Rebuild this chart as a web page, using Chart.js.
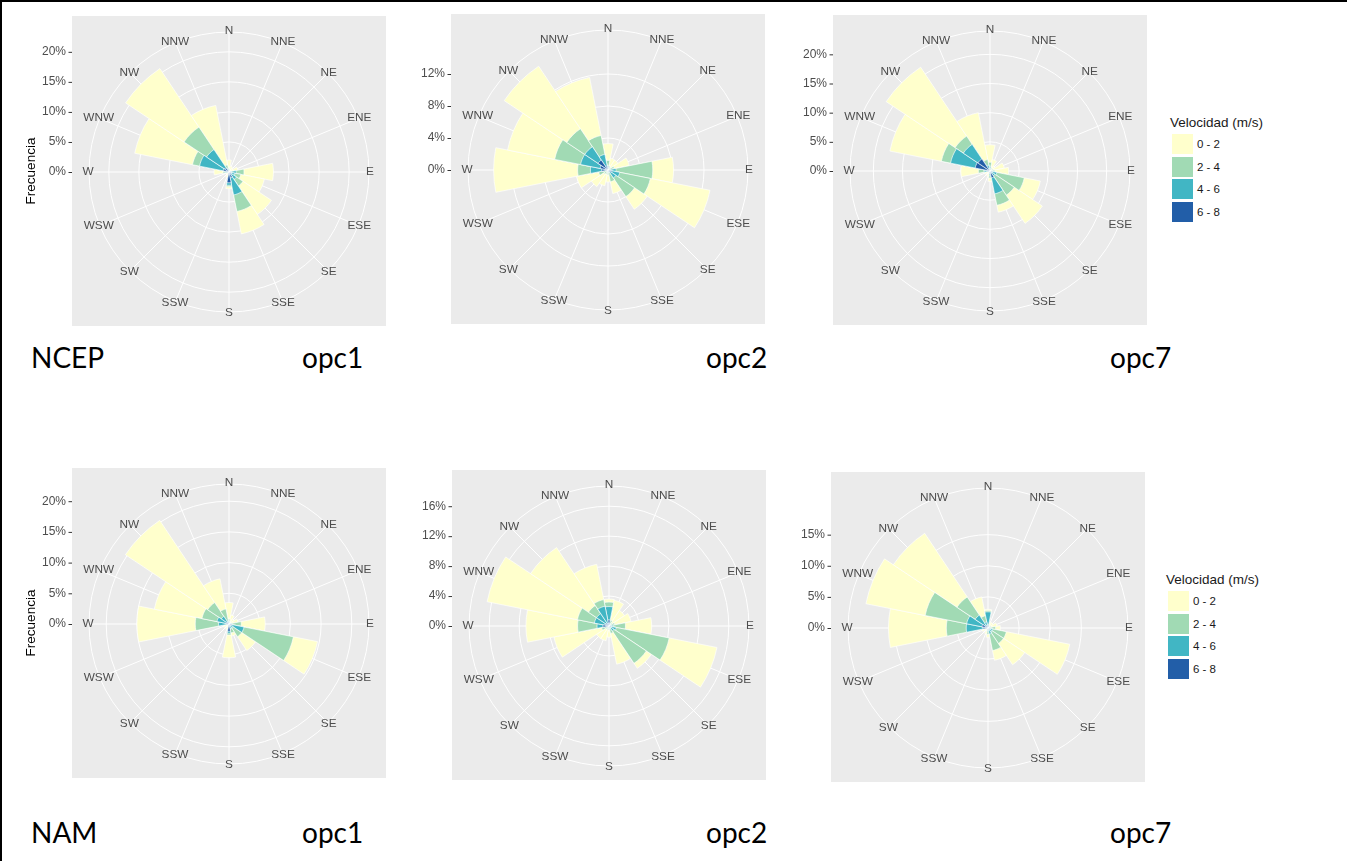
<!DOCTYPE html>
<html>
<head>
<meta charset="utf-8">
<title>Rosas de viento</title>
<script src="https://cdn.jsdelivr.net/npm/chart.js@4.4.1/dist/chart.umd.min.js"></script>
<style>
  html, body { margin: 0; padding: 0; background: #fff; }
  #page { position: relative; width: 1347px; height: 861px; overflow: hidden; background: #fff; }
  #page canvas { position: absolute; }
  .frameTop { position: absolute; left: 0; top: 0; width: 1347px; height: 2px; background: #000; }
  .frameLeft { position: absolute; left: 0; top: 0; width: 2px; height: 861px; background: #000; }
  .tag { position: absolute; font-family: Lato, 'Open Sans', sans-serif; font-size: 28px; line-height: 28px; color: #000; white-space: nowrap; }
  .legend { position: absolute; font-family: 'Liberation Sans', Arial, sans-serif; color: #1a1a1a; }
  .legend .title { font-size: 13.5px; line-height: 18px; height: 20px; white-space: nowrap; }
  .legend .row { position: relative; height: 22.6px; }
  .legend .key { position: absolute; left: 2px; top: 0; width: 21px; height: 20px; }
  .legend .lab { position: absolute; left: 27px; top: 0; line-height: 20px; font-size: 11.5px; white-space: nowrap; }
</style>
</head>
<body>
<div id="page">
  <div class="frameTop"></div>
  <div class="frameLeft"></div>

  <div class="tag" style="left:31px;top:343px">NCEP</div>
  <div class="tag" style="left:302px;top:343px">opc1</div>
  <div class="tag" style="left:706px;top:343px">opc2</div>
  <div class="tag" style="left:1110px;top:343px">opc7</div>
  <div class="tag" style="left:31px;top:818px">NAM</div>
  <div class="tag" style="left:302px;top:818px">opc1</div>
  <div class="tag" style="left:706px;top:818px">opc2</div>
  <div class="tag" style="left:1110px;top:818px">opc7</div>

  <div class="legend" id="legendTop" style="left:1170px;top:114px"></div>
  <div class="legend" id="legendBottom" style="left:1166px;top:571px"></div>
</div>

<script>
// Directions (clockwise from north) and speed classes
const directions = ['N', 'NNE', 'NE', 'ENE', 'E', 'ESE', 'SE', 'SSE', 'S', 'SSW', 'SW', 'WSW', 'W', 'WNW', 'NW', 'NNW'];
const speedClasses = ['0 - 2', '2 - 4', '4 - 6', '6 - 8'];
const speedColors = ['#FFFFCC', '#A1DAB4', '#41B6C4', '#225EA8'];

// Frequencies (%) per direction, one array per speed class

// NCEP - opc1
const ncepOpc1Speed02 = [1.5, 0.8, 0.8, 1.2, 4.9, 4.0, 5.7, 3.8, 0.4, 0.6, 0.3, 0.4, 1.5, 9.8, 11.7, 10.1];
const ncepOpc1Speed24 = [0.3, 0.2, 0.0, 0.3, 1.3, 1.0, 1.3, 2.8, 0.2, 0.2, 0.2, 0.2, 0.4, 1.2, 4.5, 0.6];
const ncepOpc1Speed46 = [0.2, 0.0, 0.0, 0.0, 0.9, 0.7, 1.0, 2.9, 0.4, 0.2, 0.0, 0.0, 0.4, 4.0, 3.7, 0.4];
const ncepOpc1Speed68 = [0.0, 0.0, 0.0, 0.0, 0.3, 0.3, 0.5, 1.0, 1.8, 0.0, 0.0, 0.0, 0.2, 1.0, 0.8, 0.2];
const ncepOpc1Ticks = [0, 5, 10, 15, 20];

// NCEP - opc2
const ncepOpc2Speed02 = [2.1, 1.0, 1.1, 1.9, 2.6, 7.6, 1.9, 1.5, 0.9, 1.5, 1.9, 2.8, 10.5, 6.0, 9.4, 7.4];
const ncepOpc2Speed24 = [0.7, 0.3, 0.3, 0.6, 4.6, 3.9, 2.8, 1.2, 0.4, 0.5, 0.6, 1.0, 1.6, 3.3, 2.7, 2.4];
const ncepOpc2Speed46 = [0.3, 0.2, 0.1, 0.2, 0.8, 1.0, 0.9, 0.3, 0.2, 0.0, 0.0, 0.2, 1.4, 2.5, 2.0, 1.5];
const ncepOpc2Speed68 = [0.2, 0.0, 0.0, 0.0, 0.2, 0.5, 0.3, 0.0, 0.0, 0.0, 0.0, 0.0, 0.8, 1.0, 1.5, 0.5];
const ncepOpc2Ticks = [0, 4, 8, 12];

// NCEP - opc7
const ncepOpc7Speed02 = [3.0, 1.4, 0.7, 1.9, 2.4, 2.8, 5.8, 1.2, 0.6, 0.6, 0.3, 0.7, 3.0, 9.0, 14.2, 8.2];
const ncepOpc7Speed24 = [0.7, 0.4, 0.3, 0.4, 0.5, 4.8, 4.0, 2.0, 0.4, 0.2, 0.2, 0.3, 1.0, 1.6, 1.7, 1.0];
const ncepOpc7Speed46 = [0.5, 0.2, 0.0, 0.2, 0.3, 0.9, 0.8, 2.8, 0.5, 0.2, 0.0, 0.0, 0.5, 4.3, 3.0, 0.7];
const ncepOpc7Speed68 = [0.3, 0.0, 0.0, 0.0, 0.0, 0.3, 0.2, 1.2, 0.3, 0.0, 0.0, 0.0, 0.5, 2.6, 2.5, 0.3];
const ncepOpc7Ticks = [0, 5, 10, 15, 20];

// NAM - opc1
const namOpc1Speed02 = [2.7, 1.2, 0.8, 1.1, 3.9, 4.0, 2.7, 0.5, 3.7, 0.7, 0.3, 0.7, 9.5, 7.9, 16.1, 5.0];
const namOpc1Speed24 = [0.5, 0.3, 0.2, 0.4, 1.5, 8.2, 1.7, 0.7, 0.3, 0.3, 0.2, 0.3, 3.8, 2.5, 2.7, 2.0];
const namOpc1Speed46 = [0.3, 0.0, 0.0, 0.0, 0.5, 2.0, 0.6, 0.5, 0.3, 0.0, 0.0, 0.0, 1.4, 1.5, 1.2, 0.5];
const namOpc1Speed68 = [0.0, 0.0, 0.0, 0.0, 0.0, 0.5, 0.2, 0.3, 1.2, 0.0, 0.0, 0.0, 0.3, 0.5, 0.3, 0.0];
const namOpc1Ticks = [0, 5, 10, 15, 20];

// NAM - opc2
const namOpc2Speed02 = [0.4, 2.7, 2.0, 2.2, 3.5, 6.5, 0.8, 4.2, 1.0, 1.5, 1.5, 6.5, 6.9, 12.3, 9.3, 4.8];
const namOpc2Speed24 = [0.6, 0.5, 0.3, 0.6, 1.6, 7.2, 5.2, 0.7, 0.3, 0.5, 0.5, 0.8, 2.6, 2.3, 1.3, 0.9];
const namOpc2Speed46 = [1.8, 0.3, 0.2, 0.2, 0.4, 0.7, 0.6, 0.3, 0.2, 0.0, 0.0, 0.2, 0.8, 1.5, 1.5, 2.4];
const namOpc2Speed68 = [0.8, 0.0, 0.0, 0.0, 0.2, 0.3, 0.2, 0.0, 0.0, 0.0, 0.0, 0.0, 0.8, 0.5, 0.5, 0.3];
const namOpc2Ticks = [0, 4, 8, 12, 16];

// NAM - opc7
const namOpc7Speed02 = [0.2, 0.6, 0.7, 1.0, 0.8, 10.4, 4.1, 1.6, 0.5, 0.6, 0.3, 0.7, 9.3, 9.7, 12.3, 3.1];
const namOpc7Speed24 = [0.2, 0.2, 0.3, 0.3, 0.7, 2.2, 2.2, 2.7, 0.4, 0.4, 0.2, 0.3, 3.2, 6.8, 3.5, 1.0];
const namOpc7Speed46 = [2.1, 0.2, 0.0, 0.2, 0.3, 0.6, 0.6, 0.8, 0.3, 0.0, 0.0, 0.0, 2.7, 2.5, 2.0, 0.7];
const namOpc7Speed68 = [0.5, 0.0, 0.0, 0.0, 0.2, 0.2, 0.2, 0.2, 0.3, 0.0, 0.0, 0.0, 0.8, 1.0, 0.5, 0.3];
const namOpc7Ticks = [0, 5, 10, 15];

// Panel layout: canvas position on the page and radial limit (outer ring)
const panels = [
  { left: 15,  top: 12,  rMax: 23.3, ticks: ncepOpc1Ticks, yTitle: true,
    classes: [ncepOpc1Speed02, ncepOpc1Speed24, ncepOpc1Speed46, ncepOpc1Speed68] },
  { left: 394, top: 10,  rMax: 17.5, ticks: ncepOpc2Ticks, yTitle: false,
    classes: [ncepOpc2Speed02, ncepOpc2Speed24, ncepOpc2Speed46, ncepOpc2Speed68] },
  { left: 776, top: 11,  rMax: 24.0, ticks: ncepOpc7Ticks, yTitle: false,
    classes: [ncepOpc7Speed02, ncepOpc7Speed24, ncepOpc7Speed46, ncepOpc7Speed68] },
  { left: 15,  top: 464, rMax: 22.8, ticks: namOpc1Ticks, yTitle: true,
    classes: [namOpc1Speed02, namOpc1Speed24, namOpc1Speed46, namOpc1Speed68] },
  { left: 395, top: 466, rMax: 18.7, ticks: namOpc2Ticks, yTitle: false,
    classes: [namOpc2Speed02, namOpc2Speed24, namOpc2Speed46, namOpc2Speed68] },
  { left: 774, top: 468, rMax: 22.5, ticks: namOpc7Ticks, yTitle: false,
    classes: [namOpc7Speed02, namOpc7Speed24, namOpc7Speed46, namOpc7Speed68] }
];

const CANVAS_W = 380;
const CANVAS_H = 320;
const textGrey = '#4D4D4D';

// ggplot-like panel: grey square, spokes, direction and r-axis labels
const roseFrame = {
  id: 'roseFrame',
  beforeDraw(chart) {
    const s = chart.scales.r;
    const ctx = chart.ctx;
    ctx.save();
    ctx.fillStyle = '#EBEBEB';
    ctx.fillRect(s.xCenter - 157, s.yCenter - 156, 314, 310);
    ctx.restore();
  },
  beforeDatasetsDraw(chart) {
    const s = chart.scales.r;
    const ctx = chart.ctx;
    ctx.save();
    ctx.strokeStyle = '#FFFFFF';
    ctx.lineWidth = 1;
    directions.forEach((d, i) => {
      const p = s.getPointPosition(i + 0.5, s.drawingArea);
      ctx.beginPath();
      ctx.moveTo(s.xCenter, s.yCenter);
      ctx.lineTo(p.x, p.y);
      ctx.stroke();
    });
    ctx.restore();
  },
  afterDraw(chart, args, opts) {
    const s = chart.scales.r;
    const ctx = chart.ctx;
    const panelLeft = s.xCenter - 157;
    ctx.save();

    // direction labels on the outer ring
    ctx.fillStyle = textGrey;
    ctx.font = '11.8px "Liberation Sans", Arial, sans-serif';
    ctx.textAlign = 'center';
    ctx.textBaseline = 'middle';
    directions.forEach((d, i) => {
      const p = s.getPointPosition(i + 0.5, s.drawingArea + 1);
      ctx.fillText(d, p.x, p.y);
    });

    // radial axis, drawn on the left like ggplot
    ctx.font = '12px "Liberation Sans", Arial, sans-serif';
    ctx.textAlign = 'right';
    ctx.strokeStyle = '#333333';
    ctx.lineWidth = 1;
    opts.ticks.forEach(v => {
      const y = s.yCenter - s.getDistanceFromCenterForValue(v);
      ctx.fillText(v + '%', panelLeft - 6, y);
      ctx.beginPath();
      ctx.moveTo(panelLeft - 3.5, y + 0.5);
      ctx.lineTo(panelLeft, y + 0.5);
      ctx.stroke();
    });

    if (opts.yTitle) {
      ctx.translate(s.xCenter - 198, s.yCenter - 1);
      ctx.rotate(-Math.PI / 2);
      ctx.fillStyle = '#000000';
      ctx.font = '13.5px "Liberation Sans", Arial, sans-serif';
      ctx.textAlign = 'center';
      ctx.fillText('Frecuencia', 0, 0);
    }
    ctx.restore();
  }
};

// stacked rose: cumulative sums, innermost class first so it is painted on top
function stackedDatasets(classes) {
  const sets = [];
  let running = directions.map(() => 0);
  for (let k = classes.length - 1; k >= 0; k--) {
    running = running.map((sum, i) => sum + classes[k][i]);
    sets.push({
      label: speedClasses[k],
      data: running.slice(),
      backgroundColor: speedColors[k],
      borderColor: 'rgba(255, 255, 255, 0.65)',
      borderWidth: 1
    });
  }
  return sets;
}

const page = document.getElementById('page');
panels.forEach(panel => {
  const canvas = document.createElement('canvas');
  canvas.width = CANVAS_W;
  canvas.height = CANVAS_H;
  canvas.style.left = panel.left + 'px';
  canvas.style.top = panel.top + 'px';
  page.appendChild(canvas);

  const ringValues = panel.ticks.concat([panel.rMax]);

  new Chart(canvas, {
    type: 'polarArea',
    data: {
      labels: directions,
      datasets: stackedDatasets(panel.classes)
    },
    options: {
      responsive: false,
      animation: false,
      devicePixelRatio: 1,
      layout: { padding: { left: 74, right: 26, top: 20, bottom: 20 } },
      plugins: {
        legend: { display: false },
        tooltip: { enabled: false },
        roseFrame: { ticks: panel.ticks, yTitle: panel.yTitle }
      },
      scales: {
        r: {
          min: 0,
          max: panel.rMax,
          startAngle: -11.25,
          afterBuildTicks: axis => { axis.ticks = ringValues.map(v => ({ value: v })); },
          ticks: { display: false },
          grid: { color: '#FFFFFF', lineWidth: 1, circular: true },
          angleLines: { display: false },
          pointLabels: { display: false }
        }
      }
    },
    plugins: [roseFrame]
  });
});

// legends
function buildLegend(el) {
  const title = document.createElement('div');
  title.className = 'title';
  title.textContent = 'Velocidad (m/s)';
  el.appendChild(title);
  speedClasses.forEach((name, k) => {
    const row = document.createElement('div');
    row.className = 'row';
    const key = document.createElement('div');
    key.className = 'key';
    key.style.background = speedColors[k];
    const lab = document.createElement('div');
    lab.className = 'lab';
    lab.textContent = name;
    row.appendChild(key);
    row.appendChild(lab);
    el.appendChild(row);
  });
}
buildLegend(document.getElementById('legendTop'));
buildLegend(document.getElementById('legendBottom'));
</script>
</body>
</html>
